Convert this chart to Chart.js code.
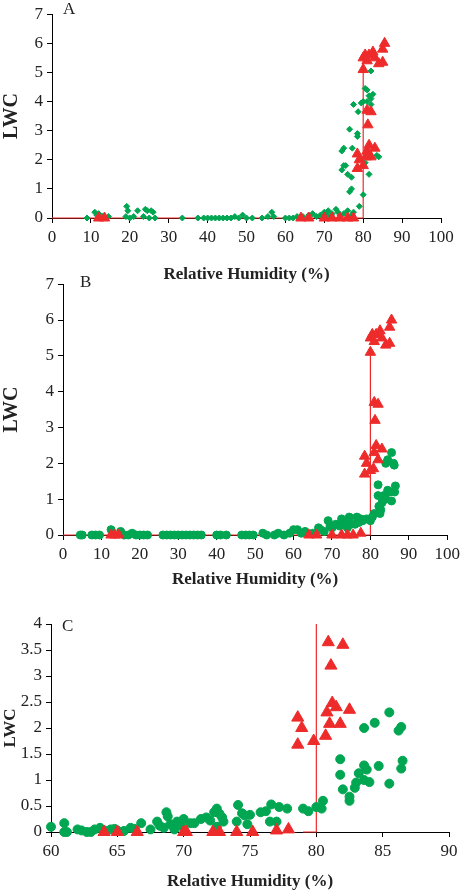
<!DOCTYPE html>
<html>
<head>
<meta charset="utf-8">
<script src="https://cdn.jsdelivr.net/npm/chart.js@4/dist/chart.umd.min.js"></script>
<style>
  body { margin: 0; background: #fff; width: 464px; height: 892px; position: relative; overflow: hidden; }
  canvas { position: absolute; left: 0; }
  .lbl { position: absolute; font: 17px "Liberation Serif", serif; color: #222; }
</style>
</head>
<body>
<canvas id="chartA" style="top:0px"></canvas>
<canvas id="chartB" style="top:270px"></canvas>
<canvas id="chartC" style="top:600px"></canvas>
<div class="lbl" style="left:63px;top:-1px">A</div>
<div class="lbl" style="left:80px;top:272px">B</div>
<div class="lbl" style="left:62px;top:616px">C</div>
<script>
// ---- panel A (diamonds) ----
const aGreenX = [9,11,11.5,12,12.5,13,14.5,19,19.2,19.5,20,21,22,23.5,24,24.5,25,25.5,26,26.5,33.5,37.5,39,40,41,42,43,44,45,46,47,48,49,50,51.5,54,55.5,56.5,57,60,61,62,63,64.5,66,67,68,69,70,70.5,71,71.5,72,73,73.5,74,75,76,77,77.5,74.5,75,74.5,75,75.5,76,76.5,76.5,77,77.2,77,77.5,78.5,78.5,78.7,79,80,80,80.5,81,81,81.5,82,82,82,82.5,81.5,83.5,84,80.5,79.5];
const aGreenY = [0,0.2,0.1,0.15,0,0.05,0.05,0.05,0.4,0.25,0,0.05,0.25,0.05,0.3,0.25,0,0.25,0.2,0,0,0,0,0,0,0,0,0,0,0,0.05,0,0.1,0,0,0,0.05,0.2,0.05,0,0,0,0.05,0.05,0.1,0.15,0.05,0.1,0.2,0.1,0.25,0.05,0.15,0.3,0.2,0.1,0.15,0.25,0.1,0.2,2.3,2.4,1.65,1.8,1.8,1.5,3.05,0.9,1.0,2.4,1.4,3.9,2.8,2.9,3.65,0.4,0.8,4.0,4.45,4.0,4.4,4.2,5.05,4.1,3.9,4.25,1.5,2.15,2.1,1.9,3.95];
const aRedX = [12,13.5,64,66,70,72,74,76,77.5,78.5,78.5,79,80,80,80.5,81,81.5,82.5,83,84,85,85.5,85,81,82,81.2,80,81,81.5,82,83,80.8];
const aRedY = [0,0,0,0,0,0,0,0,0,2.2,1.7,2.0,5.1,5.5,5.6,5.4,5.6,5.7,5.5,5.3,5.8,6.0,5.35,3.7,3.65,3.2,1.8,2.3,2.5,2.1,2.4,2.1];
const aLineX = [0,80,80];
const aLineY = [0,0,5.5];

// ---- panel B (circles) ----
const bGreenX = [4.5,5,7.5,8.5,9.5,12.5,15,16,17,18,19,20,21,22,26,27,28,29,30,31,32,33,34,35,36,40,41,42.5,46.5,47.5,48.5,49.5,52,53,55,56,57.5,59,60,61,62,63,65,66.5,67,68,69,69.5,70,71,72,72.5,73,73.5,74,74.5,75,76,76.5,77,77.5,78,79,80,80.5,81,82,82,82.2,82.5,82.7,83,83.5,84,84.5,85,85.5,84,84.5,85.5,86,86.2,86.3,86.5];
const bGreenY = [0,0,0,0,0,0.15,0.1,0,0,0.05,0,0,0,0,0,0,0,0,0,0,0,0,0,0,0,0,0,0,0,0,0,0,0.05,0,0,0.05,0,0.05,0.15,0.15,0.05,0.1,0.05,0.2,0.15,0.1,0.4,0.25,0.2,0.3,0.25,0.45,0.3,0.35,0.2,0.5,0.3,0.3,0.5,0.35,0.45,0.4,0.45,0.4,0.5,0.6,1.4,1.1,0.8,0.6,0.7,0.9,1.1,1.0,1.25,1.2,0.95,2.0,2.1,2.3,2.0,1.95,1.2,1.37];
const bRedX = [12.5,13.5,14.5,64,66,70,72.5,74,75.5,77.5,78.5,78.5,79,80,80,80.5,81,81.5,82.5,83,84,85,85.5,85,81,82,81.2,80,81,81.5,82,83,80.8];
const bRedY = [0,0,0,0,0,0,0,0,0,0.05,2.2,1.7,2.0,5.1,5.5,5.6,5.4,5.6,5.7,5.5,5.3,5.8,6.0,5.35,3.7,3.65,3.2,1.8,2.3,2.5,2.1,2.4,1.85];
const bLineX = [0,80,80];
const bLineY = [0,0,5.1];

// ---- panel C (circles, zoomed) ----
const cGreenX = [60,61,61,61.2,62,62.3,62.7,63,63.3,63.7,64,64.5,64.8,65,65.5,66,66.3,66.8,67.5,68,68.2,68.5,68.7,68.8,69,69.3,69.5,69.8,70,70.5,70.8,71.3,71.7,72,72.3,72.5,72.7,72.9,73,72.5,74,74.1,74.4,74.6,74.8,75,75.8,76.2,76.5,76.6,77,77.2,77.8,79,79.4,80,80.4,80.5,81.8,81.8,82,82.5,82.5,82.9,83,83.2,83.6,83.6,83.8,84,84.7,85.5,83.6,84.4,85.5,86.2,86.4,86.4,86.5];
const cGreenY = [0.1,0.17,0,0,0.05,0.03,0,0,0.05,0.08,0.03,0.05,0.06,0.03,0.02,0.08,0.06,0.17,0.05,0.2,0.12,0.08,0.38,0.3,0.15,0.05,0.2,0.12,0.25,0.17,0.17,0.25,0.28,0.22,0.38,0.45,0.35,0.28,0.2,0.1,0.2,0.52,0.36,0.32,0.15,0.33,0.38,0.4,0.2,0.53,0.2,0.48,0.45,0.45,0.4,0.48,0.45,0.6,1.4,1.1,0.82,0.6,0.68,0.85,0.95,1.13,1.0,1.28,1.2,0.96,1.27,0.93,2.0,2.1,2.3,1.95,2.02,1.22,1.37];
const cRedX = [64,65,66.5,70,70.2,72.2,72.7,74,75.2,77,77.9,78.6,78.6,78.9,79.8,80.7,80.8,80.9,81,81.1,81.2,81.5,81.8,82,82.5];
const cRedY = [0,0,0,0,0,0,0,0,0,0.03,0.05,2.2,1.68,2.0,1.75,1.85,2.3,3.65,2.08,3.2,2.48,2.4,2.08,3.6,2.35];
const cLineX = [79,80,80];
const cLineY = [0,0,4];

const GREEN = '#00a651';
const RED = '#ee2b2b';
const tickFont = { family: 'Liberation Serif', size: 17 };
const titleFont = { family: 'Liberation Serif', size: 17, weight: 'bold' };

function pts(xs, ys) {
  return xs.map((x, i) => ({ x: x, y: ys[i] }));
}

function makeChart(id, cfg) {
  const canvas = document.getElementById(id);
  canvas.width = 464;
  canvas.height = cfg.height;
  new Chart(canvas, {
    type: 'scatter',
    data: {
      datasets: [
        { type: 'line', data: pts(cfg.lineX, cfg.lineY), borderColor: RED, borderWidth: 1.2, pointRadius: 0, fill: false, order: 3 },
        { data: pts(cfg.greenX, cfg.greenY), backgroundColor: GREEN, borderColor: GREEN, pointStyle: cfg.greenStyle, pointRadius: cfg.greenR, order: 2 },
        { data: pts(cfg.redX, cfg.redY), backgroundColor: RED, borderColor: RED, pointStyle: 'triangle', pointRadius: cfg.redR, order: 1 }
      ]
    },
    options: {
      responsive: false,
      animation: false,
      clip: false,
      layout: { padding: { top: cfg.padTop, right: cfg.padRight, left: 0, bottom: 0 } },
      plugins: { legend: { display: false }, tooltip: { enabled: false } },
      scales: {
        x: {
          type: 'linear', min: cfg.xMin, max: cfg.xMax,
          ticks: { stepSize: cfg.xStep, color: '#222', font: tickFont, padding: 4, maxRotation: 0 },
          grid: { drawOnChartArea: false, color: '#000', tickLength: 5 },
          border: { color: '#000' },
          title: { display: true, text: 'Relative Humidity (%)', color: '#222', font: titleFont, padding: { top: cfg.titleGap, bottom: 0 } },
          afterFit: s => { s.height = cfg.xHeight; }
        },
        y: {
          min: 0, max: cfg.yMax,
          ticks: { stepSize: cfg.yStep, color: '#222', font: tickFont, padding: 4, callback: v => String(v) },
          grid: { drawOnChartArea: false, color: '#000', tickLength: 5 },
          border: { color: '#000' },
          title: { display: true, text: 'LWC', color: '#222', font: { family: 'Liberation Serif', size: cfg.yTitleSize, weight: 'bold' }, padding: 0 },
          afterFit: s => { s.width = cfg.yWidth; }
        }
      }
    }
  });
}

makeChart('chartA', {
  height: 285, padTop: 7, padRight: 23, xHeight: 67, yWidth: 52, titleGap: 0, yTitleSize: 20,
  xMin: 0, xMax: 100, xStep: 10, yMax: 7, yStep: 1,
  greenX: aGreenX, greenY: aGreenY, redX: aRedX, redY: aRedY, lineX: aLineX, lineY: aLineY,
  greenStyle: 'rectRot', greenR: 3, redR: 6
});
makeChart('chartB', {
  height: 320, padTop: 12, padRight: 12, xHeight: 55, yWidth: 63, titleGap: 0, yTitleSize: 20,
  xMin: 0, xMax: 100, xStep: 10, yMax: 7, yStep: 1,
  greenX: bGreenX, greenY: bGreenY, redX: bRedX, redY: bRedY, lineX: bLineX, lineY: bLineY,
  greenStyle: 'circle', greenR: 4, redR: 6
});
makeChart('chartC', {
  height: 292, padTop: 24, padRight: 15, xHeight: 60, yWidth: 51, titleGap: 14, yTitleSize: 17,
  xMin: 60, xMax: 90, xStep: 5, yMax: 4, yStep: 0.5,
  greenX: cGreenX, greenY: cGreenY, redX: cRedX, redY: cRedY, lineX: cLineX, lineY: cLineY,
  greenStyle: 'circle', greenR: 4.5, redR: 7
});
</script>
</body>
</html>
